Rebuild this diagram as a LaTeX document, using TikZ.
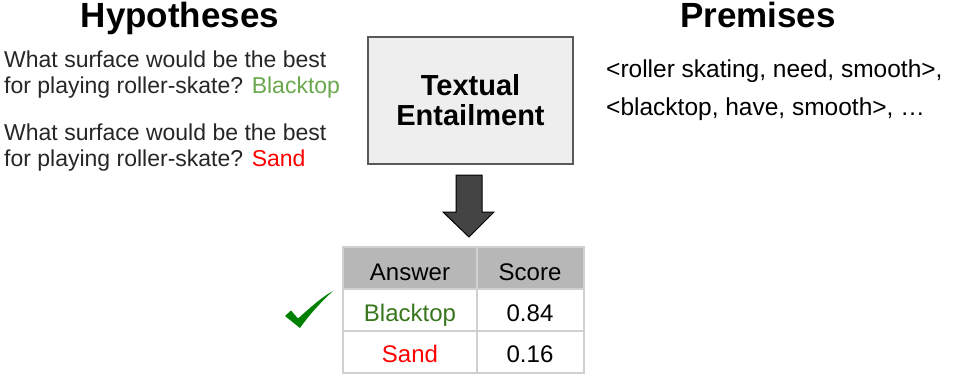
\documentclass[tikz,border=0pt]{standalone}
\usepackage{fontspec}
\setmainfont{Liberation Sans}
\definecolor{hypgray}{HTML}{262626}
\definecolor{lightgreen}{HTML}{6AA84F}
\definecolor{darkgreen}{HTML}{38761D}
\definecolor{tickgreen}{HTML}{008000}
\definecolor{boxfill}{HTML}{EEEEEE}
\definecolor{boxline}{HTML}{595959}
\definecolor{headfill}{HTML}{B7B7B7}
\definecolor{gridline}{HTML}{D0D0D0}
\definecolor{arrowfill}{HTML}{444444}
\tikzset{
  title/.style={font=\fontsize{35}{40}\selectfont\bfseries, anchor=base, inner sep=0},
  hyptext/.style={font=\fontsize{23}{26}\selectfont, text=hypgray, anchor=base west, inner sep=0},
  premtext/.style={font=\fontsize{24.5}{28}\selectfont, anchor=base west, inner sep=0},
  celltext/.style={font=\fontsize{24}{28}\selectfont, anchor=base, inner sep=0},
  tebox/.style={draw=boxline, fill=boxfill, line width=1.2pt, minimum width=205pt,
    minimum height=127pt, align=center, inner sep=0,
    font=\fontsize{29}{30}\selectfont\bfseries},
  blockarrow/.style={fill=arrowfill, draw=black, line width=1pt, line join=miter},
  gridrule/.style={draw=gridline, line width=1.6pt}
}
\begin{document}
\begin{tikzpicture}[x=1pt, y=-1pt]
\useasboundingbox (0,0) rectangle (956,381);

% column headings
\node[title] (hyp) at (180,27) {Hypotheses};
\node[title] (prem) at (758,27) {Premises};

% hypotheses
\node[hyptext] (h1a) at (4,67) {What surface would be the best};
\node[hyptext] (h1b) at (4,93) {for playing roller-skate? \textcolor{lightgreen}{Blacktop}};
\node[hyptext] (h2a) at (4,140) {What surface would be the best};
\node[hyptext] (h2b) at (4,166) {for playing roller-skate? \textcolor{red}{Sand}};

% premises
\node[premtext] (p1) at (606,77) {<roller skating, need, smooth>,};
\node[premtext] (p2) at (606,115) {<blacktop, have, smooth>, …};

% entailment model
\node[tebox] (te) at (470.5,100.5) {Textual\\Entailment};

% block arrow down to the result table
\draw[blockarrow] (456,175) -- (482,175) -- (482,212) -- (494,212) -- (469,237)
  -- (443,212) -- (456,212) -- cycle;

% result table
\fill[headfill] (343,247) rectangle (584,289);
\draw[gridrule] (343,247) rectangle (584,373);
\draw[gridrule] (343,289) -- (584,289);
\draw[gridrule] (343,331) -- (584,331);
\draw[gridrule] (477,247) -- (477,373);

\node[celltext] (ans) at (410,280) {Answer};
\node[celltext] (sc) at (530,280) {Score};
\node[celltext, text=darkgreen] (a1) at (410,321) {Blacktop};
\node[celltext] (s1) at (530,321) {0.84};
\node[celltext, text=red] (a2) at (410,362) {Sand};
\node[celltext] (s2) at (530,362) {0.16};

% tick beside the chosen answer
\fill[tickgreen] (285,316) -- (291,310.5) -- (298,318.5) .. controls (312,306) and (322,297) .. (333,291)
  .. controls (321,302) and (309,315) .. (300,328) -- cycle;
\end{tikzpicture}
\end{document}
